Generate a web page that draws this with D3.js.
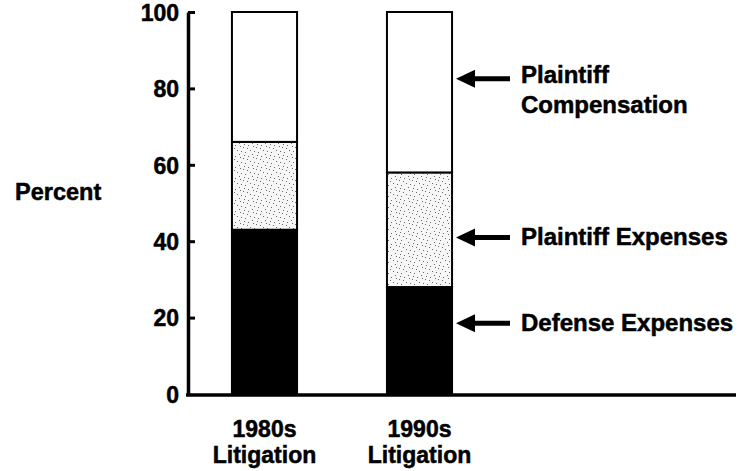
<!DOCTYPE html>
<html lang="en">
<head>
<meta charset="UTF-8">
<title>Litigation cost shares</title>
<script src="https://d3js.org/d3.v7.min.js"></script>
<style>
  body { margin: 0; background: #fff; }
  svg text { font-family: 'Liberation Sans', Arial, Helvetica, sans-serif; font-weight: bold; fill: #000; stroke: #000; stroke-width: 0.5px; }
</style>
</head>
<body>
<div id="chart"></div>
<script>
// data (percent of total, stacked bottom to top)
const periods = ["1980s", "1990s"];
const defenseExpenses = [43, 28];
const plaintiffExpenses = [23, 30];
const plaintiffCompensation = [34, 42];
const yTicks = [0, 20, 40, 60, 80, 100];

// callout labels and the percent level each arrow points at
const calloutLabels = [["Plaintiff", "Compensation"], ["Plaintiff Expenses"], ["Defense Expenses"]];
const calloutLevels = [82.5, 41, 18.5];

const width = 738, height = 471;

const svg = d3.select("#chart").append("svg")
    .attr("width", width)
    .attr("height", height);

const defs = svg.append("defs");
const pat = defs.append("pattern")
    .attr("id", "stipple")
    .attr("patternUnits", "userSpaceOnUse")
    .attr("width", 13).attr("height", 11);
pat.append("rect").attr("width", 13).attr("height", 11).attr("fill", "#f6f6f6");
[[1, 2], [5, 0], [9, 4], [3, 7], [11, 9], [7, 8], [0, 5], [6, 3], [10, 1]].forEach(p => {
    pat.append("rect").attr("x", p[0]).attr("y", p[1])
        .attr("width", 1).attr("height", 1).attr("fill", "#6a6a6a");
});

const y = d3.scaleLinear().domain([0, 100]).range([394, 12]);
const x = d3.scaleBand().domain(periods)
    .range([187, 497])
    .paddingInner(0.58)
    .paddingOuter(0.29);

const rows = periods.map((p, i) => ({
    period: p,
    defense: defenseExpenses[i],
    pexp: plaintiffExpenses[i],
    comp: plaintiffCompensation[i]
}));
const keys = ["defense", "pexp", "comp"];
const fills = { defense: "#000", pexp: "url(#stipple)", comp: "#fff" };
const series = d3.stack().keys(keys)(rows);

svg.append("g").selectAll("g")
    .data(series)
    .join("g")
    .attr("fill", d => fills[d.key])
    .selectAll("rect")
    .data(d => d)
    .join("rect")
    .attr("x", d => x(d.data.period))
    .attr("y", d => y(d[1]))
    .attr("width", x.bandwidth())
    .attr("height", d => y(d[0]) - y(d[1]))
    .attr("stroke", "#000")
    .attr("stroke-width", 2);

// y axis: ticks point inward, thick spine
const yAxis = svg.append("g")
    .attr("transform", "translate(188,0)")
    .call(d3.axisLeft(y).tickValues(yTicks).tickSizeInner(-7).tickSizeOuter(0).tickPadding(9));
yAxis.select(".domain").attr("stroke-width", 3.5);
yAxis.selectAll(".tick line").attr("stroke-width", 3);
yAxis.selectAll(".tick text").style("font-size", "23px").attr("dy", "0.36em");
yAxis.selectAll(".tick").filter(d => d === 0).select("line").remove();

// baseline
svg.append("line")
    .attr("x1", 186).attr("x2", 736)
    .attr("y1", y(0) + 1).attr("y2", y(0) + 1)
    .attr("stroke", "#000").attr("stroke-width", 3.5);

svg.append("text")
    .attr("x", 15).attr("y", 200)
    .style("font-size", "23.5px")
    .text("Percent");

// category labels
const xl = svg.append("g").selectAll("text")
    .data(periods)
    .join("text")
    .attr("x", d => x(d) + x.bandwidth() / 2)
    .attr("text-anchor", "middle")
    .style("font-size", "23px");
xl.append("tspan").attr("x", d => x(d) + x.bandwidth() / 2).attr("y", 437).text(d => d);
xl.append("tspan").attr("x", d => x(d) + x.bandwidth() / 2).attr("y", 463).text("Litigation");

// callouts
const tipX = 456, shaftEnd = 510, labelX = 521;
const co = svg.append("g").selectAll("g")
    .data(calloutLabels.map((l, i) => ({ lines: l, level: calloutLevels[i] })))
    .join("g")
    .attr("transform", d => `translate(0,${y(d.level)})`);
co.append("line")
    .attr("x1", tipX + 12).attr("x2", shaftEnd)
    .attr("stroke", "#000").attr("stroke-width", 5);
co.append("path")
    .attr("d", `M${tipX},0 L${tipX + 19},-9 L${tipX + 19},9 Z`)
    .attr("fill", "#000");
co.append("text")
    .style("font-size", "24px")
    .selectAll("tspan")
    .data(d => d.lines)
    .join("tspan")
    .attr("x", labelX)
    .attr("y", function (d, i) {
        const multi = this.parentNode.__data__.lines.length > 1;
        return (multi ? 4 : 8) + i * 30;
    })
    .text(d => d);
</script>
</body>
</html>
